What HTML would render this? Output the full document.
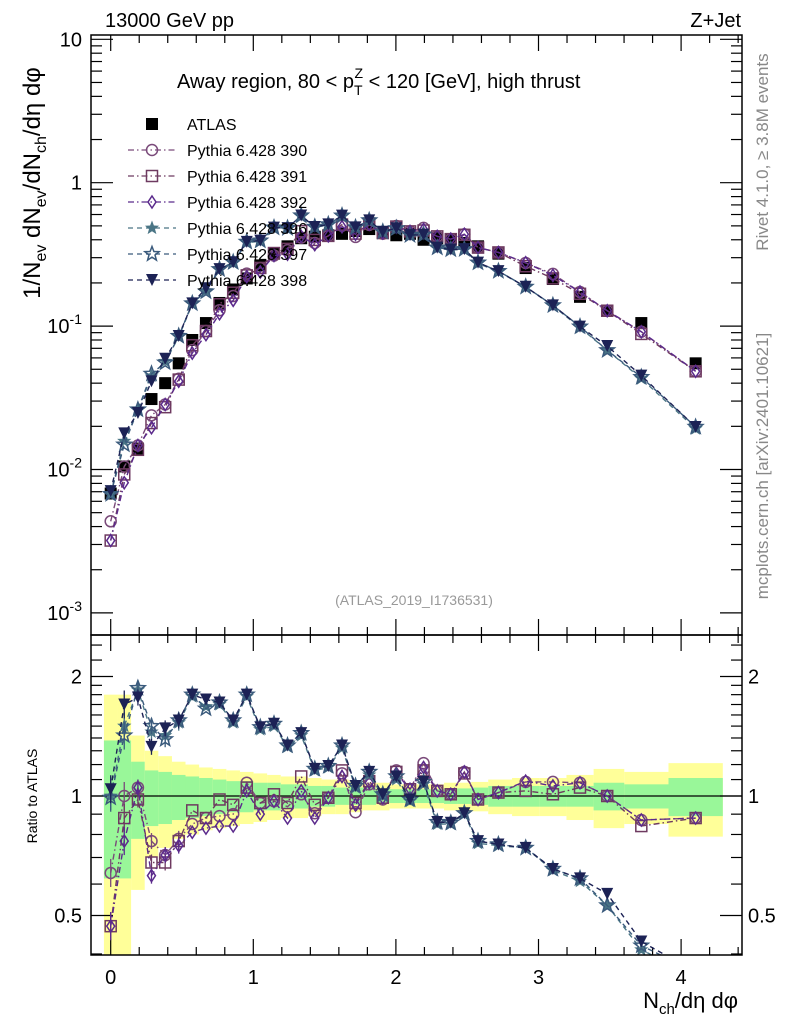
<!DOCTYPE html>
<html><head><meta charset="utf-8"><style>
html,body{margin:0;padding:0;background:#fff;}
svg{display:block;font-family:"Liberation Sans",sans-serif;}
</style></head><body>
<svg id="chart" width="786" height="1024" viewBox="0 0 786 1024">
<g id="bands"></g>
<g id="grid"></g>
<g id="series"></g>
<g id="frames">
<rect x="91" y="35" width="651" height="600" fill="none" stroke="#000" stroke-width="1.5"/>
<rect x="91" y="635" width="651" height="320" fill="none" stroke="#000" stroke-width="1.5"/>
</g>
<text x="105" y="27" font-size="20">13000 GeV pp</text>
<text x="741" y="27" font-size="20" text-anchor="end">Z+Jet</text>
<text x="177" y="88" font-size="20">Away region, 80 &lt; p<tspan font-size="14" dy="7">T</tspan><tspan font-size="14" dx="-8" dy="-17">Z</tspan><tspan dy="10"> &lt; 120 [GeV], high thrust</tspan></text>
<text x="414" y="605" font-size="14" fill="#999" text-anchor="middle">(ATLAS_2019_I1736531)</text>
<text transform="translate(768,152) rotate(-90)" font-size="17" fill="#888" text-anchor="middle">Rivet 4.1.0, ≥ 3.8M events</text>
<text transform="translate(768,466) rotate(-90)" font-size="17" fill="#888" text-anchor="middle">mcplots.cern.ch [arXiv:2401.10621]</text>
<text transform="translate(40,183) rotate(-90)" font-size="24" text-anchor="middle">1/N<tspan font-size="16" dy="6">ev</tspan><tspan dy="-6"> dN</tspan><tspan font-size="16" dy="6">ev</tspan><tspan dy="-6">/dN</tspan><tspan font-size="16" dy="6">ch</tspan><tspan dy="-6">/dη dφ</tspan></text>
<text transform="translate(37,796) rotate(-90)" font-size="14" text-anchor="middle">Ratio to ATLAS</text>
<text x="738" y="1008" font-size="22" text-anchor="end">N<tspan font-size="15" dy="6">ch</tspan><tspan dy="-6">/dη dφ</tspan></text>
<g id="legend"></g>
</svg>
<script>
const xVals=[0,0.095,0.191,0.286,0.382,0.477,0.572,0.668,0.763,0.859,0.954,1.049,1.145,1.240,1.336,1.431,1.526,1.622,1.717,1.813,1.908,2.003,2.099,2.194,2.290,2.385,2.480,2.576,2.719,2.910,3.101,3.291,3.482,3.721,4.102];
const atlas=[0.0068,0.0105,0.014,0.031,0.040,0.055,0.080,0.105,0.145,0.18,0.215,0.265,0.32,0.36,0.41,0.42,0.43,0.44,0.46,0.475,0.45,0.43,0.44,0.40,0.41,0.40,0.38,0.36,0.32,0.254,0.213,0.16,0.128,0.105,0.055];
const r390=[0.64,1.0,1.05,0.77,0.71,0.78,0.85,0.88,0.89,0.90,1.08,0.96,0.97,0.94,1.01,0.905,0.99,1.14,0.91,1.07,0.98,1.16,1.04,1.21,1.03,1.01,1.15,0.98,1.02,1.085,1.085,1.08,1.0,0.87,0.88];
const r391=[0.47,0.88,0.98,0.68,0.68,0.77,0.92,0.88,0.98,0.95,1.05,0.96,1.01,0.96,1.12,0.95,0.99,1.16,0.96,1.09,0.99,1.15,1.04,1.16,1.03,1.01,1.14,0.98,1.02,1.03,1.01,1.05,1.0,0.84,0.88];
const r392=[0.47,0.77,1.05,0.63,0.71,0.75,0.81,0.83,0.84,0.84,1.03,0.90,0.97,0.88,1.03,0.88,0.99,1.12,0.95,1.08,0.99,1.14,1.04,1.18,1.03,1.01,1.15,0.98,1.02,1.09,1.06,1.08,1.0,0.87,0.88];
const r396=[1.0,1.5,1.85,1.45,1.42,1.53,1.78,1.68,1.70,1.53,1.78,1.47,1.50,1.33,1.42,1.16,1.18,1.32,1.05,1.13,1.0,1.10,0.97,1.07,0.85,0.85,0.90,0.76,0.75,0.74,0.65,0.61,0.53,0.41,0.35];
const r397=[0.99,1.42,1.87,1.50,1.39,1.55,1.80,1.66,1.72,1.55,1.80,1.49,1.52,1.34,1.44,1.17,1.19,1.34,1.06,1.15,1.01,1.12,0.98,1.085,0.86,0.856,0.905,0.77,0.755,0.74,0.655,0.62,0.53,0.42,0.36];
const r398=[1.04,1.70,1.77,1.33,1.48,1.55,1.80,1.75,1.72,1.55,1.80,1.49,1.52,1.34,1.44,1.17,1.19,1.34,1.06,1.15,1.01,1.12,0.98,1.085,0.86,0.856,0.905,0.77,0.755,0.74,0.655,0.62,0.567,0.43,0.36];
const bandYellow=[0.8,0.8,0.42,0.3,0.26,0.22,0.2,0.18,0.17,0.16,0.15,0.14,0.13,0.12,0.12,0.11,0.1,0.1,0.09,0.08,0.08,0.07,0.07,0.07,0.07,0.08,0.08,0.085,0.1,0.11,0.11,0.13,0.17,0.15,0.21];
const bandGreen=[0.38,0.38,0.22,0.16,0.15,0.13,0.12,0.11,0.1,0.09,0.09,0.08,0.08,0.07,0.07,0.06,0.06,0.05,0.05,0.05,0.04,0.04,0.04,0.04,0.04,0.045,0.045,0.05,0.06,0.06,0.06,0.06,0.08,0.07,0.11];
const xTicks=[0,1,2,3,4];
const mainTicks=[10,1,0.1,0.01,0.001];
const mainTickLabels=["10","1","10^-1","10^-2","10^-3"];
const ratioTicks=[0.5,1,2];
const ratioTickLabels=["0.5","1","2"];

const NS="http://www.w3.org/2000/svg";
const X0=91,X1=742,MT=35,MB=635,RT=635,RB=955;
const sx=v=>110.7+142.6*v;
const sy=v=>182.7-143.4*Math.log10(v);
const sr=v=>796-397*Math.log10(v);
function mk(tag,attrs,parent){const e=document.createElementNS(NS,tag);for(const k in attrs)e.setAttribute(k,attrs[k]);parent.appendChild(e);return e;}
const gBands=document.getElementById('bands'),gAx=document.getElementById('grid'),gS=document.getElementById('series'),gL=document.getElementById('legend');

const edges=[];
for(let i=0;i<xVals.length;i++){
  const l=i===0?xVals[0]-(xVals[1]-xVals[0])/2:(xVals[i-1]+xVals[i])/2;
  const r=i===xVals.length-1?xVals[i]+(xVals[i]-xVals[i-1])/2:(xVals[i]+xVals[i+1])/2;
  edges.push([l,r]);
}
function clampR(y){return Math.max(RT,Math.min(RB,y));}
edges.forEach((e,i)=>{
  const yT=clampR(sr(1+bandYellow[i])),yB=clampR(sr(Math.max(0.05,1-bandYellow[i])));
  const ry=mk('rect',{x:sx(e[0]),y:yT,width:sx(e[1])-sx(e[0]),height:yB-yT,fill:'#ffff99'},gBands);
  
  
});
edges.forEach((e,i)=>{
  const yT=clampR(sr(1+bandGreen[i])),yB=clampR(sr(1-bandGreen[i]));
  const rg=mk('rect',{x:sx(e[0]),y:yT,width:sx(e[1])-sx(e[0]),height:yB-yT,fill:'#99f799'},gBands);
  
  
});
const one=mk('line',{x1:X0,x2:X1,y1:sr(1),y2:sr(1),stroke:'#000','stroke-width':1.3},gBands);



function line(x1,y1,x2,y2){return mk('line',{x1,y1,x2,y2,stroke:'#000','stroke-width':1.2},gAx);}
for(let v=-0.0;v<=4.41;v+=0.2){
  const x=sx(v),maj=Math.abs(v-Math.round(v))<0.01,L=maj?16:8;
  [[MT,1],[MB,-1],[RT,1],[RB,-1]].forEach(([y,d])=>line(x,y,x,y+d*L));
}
xTicks.forEach((v,i)=>{
  const t=mk('text',{x:sx(v),y:984,'font-size':20,'text-anchor':'middle'},gAx);t.textContent=String(v);
  
  
});
for(let d=-3;d<=1;d++){
  for(let m=1;m<=9;m++){
    const v=m*Math.pow(10,d);if(v>10.7)continue;
    const y=sy(v);if(y<MT||y>MB)continue;
    const L=m===1?22:11;line(X0,y,X0+L,y);line(X1,y,X1-L,y);
  }
}
mainTicks.forEach((v,i)=>{
  const s=mainTickLabels[i];const y=sy(v);
  const t=mk('text',{x:82,y:y+7,'font-size':20,'text-anchor':'end'},gAx);
  if(s.indexOf('^')>=0){const p=s.split('^');t.textContent=p[0];const ts=mk('tspan',{'font-size':14,dy:-9},t);ts.textContent=p[1];}
  else t.textContent=s;
  
  
});
[0.4,0.6,0.7,0.8,0.9,1.1,1.2,1.3,1.4,1.5,1.6,1.7,1.8,1.9,2.2,2.4].forEach(v=>{const y=sr(v);if(y<RT||y>RB)return;line(X0,y,X0+11,y);line(X1,y,X1-11,y);});
ratioTicks.forEach((v,i)=>{
  const y=sr(v);line(X0,y,X0+22,y);line(X1,y,X1-22,y);
  const t=mk('text',{x:82,y:y+7,'font-size':20,'text-anchor':'end'},gAx);t.textContent=ratioTickLabels[i];
  
  
  const t2=mk('text',{x:748,y:y+7,'font-size':20},gAx);t2.textContent=ratioTickLabels[i];
  
  
});

function starPts(cx,cy,R){let p=[];for(let i=0;i<10;i++){const a=-Math.PI/2+i*Math.PI/5,r=i%2?R*0.42:R;p.push((cx+r*Math.cos(a)).toFixed(1)+','+(cy+r*Math.sin(a)).toFixed(1));}return p.join(' ');}
function marker(type,cx,cy,color,parent){
  const sw=1.5;
  if(type==='circle')return mk('circle',{cx,cy,r:5.5,fill:'none',stroke:color,'stroke-width':sw},parent);
  if(type==='square')return mk('rect',{x:cx-5.5,y:cy-5.5,width:11,height:11,fill:'none',stroke:color,'stroke-width':sw},parent);
  if(type==='fsquare')return mk('rect',{x:cx-6,y:cy-6,width:12,height:12,fill:color},parent);
  if(type==='diamond')return mk('polygon',{points:`${cx},${cy-6} ${cx+4},${cy} ${cx},${cy+6} ${cx-4},${cy}`,fill:'none',stroke:color,'stroke-width':sw},parent);
  if(type==='fstar')return mk('polygon',{points:starPts(cx,cy,7.5),fill:color},parent);
  if(type==='star')return mk('polygon',{points:starPts(cx,cy,7.5),fill:'none',stroke:color,'stroke-width':sw},parent);
  if(type==='ftri')return mk('polygon',{points:`${cx-6},${cy-6} ${cx+6},${cy-6} ${cx},${cy+6}`,fill:color},parent);
}
const series=[
  {name:'Pythia 6.428 390',ratio:r390,color:'#7a4a7a',m:'circle',dash:'6,3,1.5,3'},
  {name:'Pythia 6.428 391',ratio:r391,color:'#6e3a60',m:'square',dash:'6,3,1.5,3'},
  {name:'Pythia 6.428 392',ratio:r392,color:'#5b2a8c',m:'diamond',dash:'6,3,1.5,3'},
  {name:'Pythia 6.428 396',ratio:r396,color:'#4a7585',m:'fstar',dash:'5,4'},
  {name:'Pythia 6.428 397',ratio:r397,color:'#3a5a7c',m:'star',dash:'5,4'},
  {name:'Pythia 6.428 398',ratio:r398,color:'#1c2255',m:'ftri',dash:'5,4'}
];
atlas.forEach((v,i)=>{
  const s=marker('fsquare',sx(xVals[i]),sy(v),'#000',gS);
  
  
});
const clipM=mk('clipPath',{id:'cm'},gS);mk('rect',{x:X0,y:MT,width:X1-X0,height:MB-MT},clipM);
const clipR=mk('clipPath',{id:'cr'},gS);mk('rect',{x:X0,y:RT,width:X1-X0,height:RB-RT},clipR);
series.forEach(s=>{
  const gm=mk('g',{'clip-path':'url(#cm)'},gS);
  
  
  const gr=mk('g',{'clip-path':'url(#cr)'},gS);
  
  
  const mainPts=xVals.map((x,i)=>[sx(x),sy(atlas[i]*s.ratio[i])]);
  const ratPts=xVals.map((x,i)=>[sx(x),sr(s.ratio[i])]);
  mk('polyline',{points:mainPts.map(p=>p.join(',')).join(' '),fill:'none',stroke:s.color,'stroke-width':1.4,'stroke-dasharray':s.dash},gm);
  mk('polyline',{points:ratPts.map(p=>p.join(',')).join(' '),fill:'none',stroke:s.color,'stroke-width':1.4,'stroke-dasharray':s.dash},gr);
  mainPts.forEach(p=>{const e=marker(s.m,p[0],p[1],s.color,gm);});
  ratPts.forEach((p,i)=>{
    if(i<6){const err=i<2?14:8;mk('line',{x1:p[0],x2:p[0],y1:p[1]-err,y2:p[1]+err,stroke:s.color,'stroke-width':1.3},gr);}
    const e=marker(s.m,p[0],p[1],s.color,gr);
  });
});
const ly=[124,150,176,202,228,254,280];
const la=marker('fsquare',152,ly[0],'#000',gL);


const lt=mk('text',{x:187,y:ly[0]+6,'font-size':16},gL);lt.textContent='ATLAS';


series.forEach((s,i)=>{
  const y=ly[i+1];
  mk('line',{x1:128,x2:176,y1:y,y2:y,stroke:s.color,'stroke-width':1.3,'stroke-dasharray':s.dash},gL);
  const m=marker(s.m,152,y,s.color,gL);
  
  
  const t=mk('text',{x:187,y:y+6,'font-size':16},gL);t.textContent=s.name;
  
  
});
</script>
</body></html>
